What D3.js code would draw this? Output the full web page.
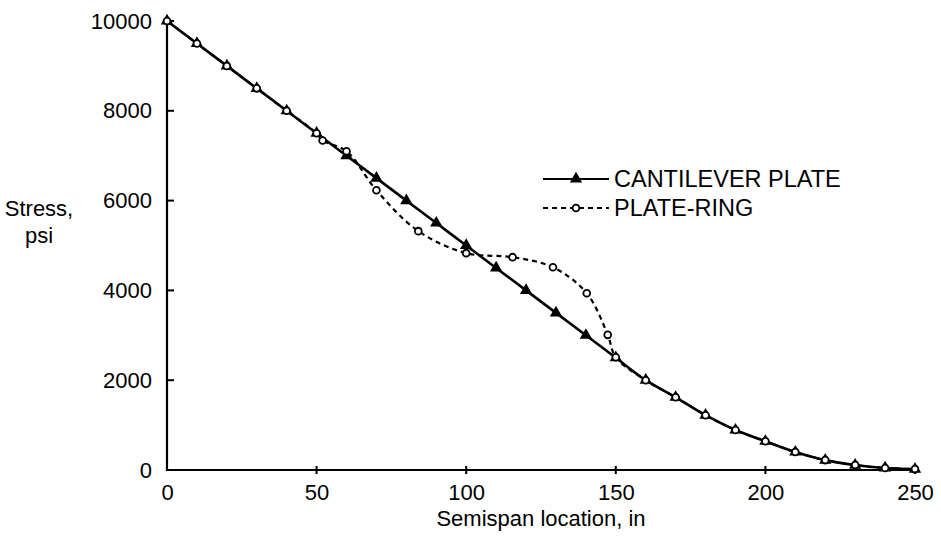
<!DOCTYPE html>
<html><head><meta charset="utf-8">
<script src="https://cdn.jsdelivr.net/npm/d3@7"></script>
<style>body{margin:0;background:#fff}svg{display:block}text{font-family:"Liberation Sans",Arial,sans-serif;fill:#000}</style>
</head><body><svg id="c" width="941" height="546"></svg>
<script>
const cantX = [0,10,20,30,40,50,60,70,80,90,100,110,120,130,140,150,160,170,180,190,200,210,220,230,240,250];
const cantY = [10000,9500,9000,8500,8000,7500,7000,6500,6000,5500,5000,4500,4000,3500,3000,2500,2000,1620,1220,890,640,400,220,110,45,20];
const ringX = [0,10,20,30,40,50,52,60,70,84,100,115.5,129,140.3,147.3,150,160,170,180,190,200,210,220,230,240,250];
const ringY = [10000,9500,9000,8500,8000,7500,7340,7100,6230,5320,4830,4740,4515,3935,3010,2510,2000,1620,1220,890,640,400,220,110,45,20];
const xTicks = [0,50,100,150,200,250];
const yTicks = [0,2000,4000,6000,8000,10000];
const seriesNames = ["CANTILEVER PLATE","PLATE-RING"];
const FS = "22px";
const LFS = "23.5px";

const svg = d3.select("#c");
const x = d3.scaleLinear().domain([0,250]).range([167,915]);
const y = d3.scaleLinear().domain([0,10000]).range([470,21]);

// axes
const xa = svg.append("g").attr("transform","translate(0,470)")
  .call(d3.axisBottom(x).tickValues(xTicks).tickFormat(d3.format("d")).tickSize(0).tickPadding(14));
xa.select(".domain").remove();
xa.selectAll("text").style("font-size",FS).attr("font-family",null);
svg.append("g").selectAll("line").data(xTicks.slice(1)).join("line")
  .attr("x1",d=>x(d)).attr("x2",d=>x(d)).attr("y1",466).attr("y2",474)
  .attr("stroke","#000").attr("stroke-width",2);

const ya = svg.append("g").attr("transform","translate(167,0)")
  .call(d3.axisLeft(y).tickValues(yTicks).tickFormat(d3.format("d")).tickSize(0).tickPadding(15));
ya.select(".domain").remove();
ya.selectAll("text").style("font-size",FS).attr("font-family",null);
svg.append("g").selectAll("line").data(yTicks.slice(1)).join("line")
  .attr("x1",167).attr("x2",174).attr("y1",d=>y(d)).attr("y2",d=>y(d))
  .attr("stroke","#000").attr("stroke-width",2);

svg.append("line").attr("x1",167).attr("x2",167).attr("y1",y(10000)).attr("y2",471).attr("stroke","#000").attr("stroke-width",2.2);
svg.append("line").attr("x1",166).attr("x2",x(250)).attr("y1",470).attr("y2",470).attr("stroke","#000").attr("stroke-width",2.2);

// labels
svg.append("text").attr("x",39).attr("y",216).attr("text-anchor","middle").style("font-size",FS).text("Stress,");
svg.append("text").attr("x",39).attr("y",243).attr("text-anchor","middle").style("font-size",FS).text("psi");
svg.append("text").attr("x",541).attr("y",526).attr("text-anchor","middle").style("font-size",FS).text("Semispan location, in");

const cant = cantX.map((d,i)=>[d,cantY[i]]);
const ring = ringX.map((d,i)=>[d,ringY[i]]);
const line = d3.line().x(d=>x(d[0])).y(d=>y(d[1])).curve(d3.curveCatmullRom.alpha(0.5));

svg.append("path").attr("d",line(cant)).attr("fill","none").attr("stroke","#000").attr("stroke-width",2.6);
const tri = d3.symbol().type(d3.symbolTriangle).size(66);
svg.append("g").selectAll("path").data(cant).join("path")
  .attr("d",tri).attr("transform",d=>`translate(${x(d[0])},${y(d[1])})`).attr("fill","#000");

svg.append("path").attr("d",line(ring)).attr("fill","none").attr("stroke","#000").attr("stroke-width",2.2).attr("stroke-dasharray","5,4");
svg.append("g").selectAll("circle").data(ring).join("circle")
  .attr("cx",d=>x(d[0])).attr("cy",d=>y(d[1])).attr("r",3.4)
  .attr("fill","#fff").attr("stroke","#000").attr("stroke-width",1.8);

// legend
const lg = svg.append("g");
lg.append("line").attr("x1",543).attr("x2",609).attr("y1",179).attr("y2",179).attr("stroke","#000").attr("stroke-width",2.2);
lg.append("path").attr("d",tri).attr("transform","translate(576,179)").attr("fill","#000");
lg.append("text").attr("x",614).attr("y",187).style("font-size",LFS).text(seriesNames[0]);
lg.append("line").attr("x1",543).attr("x2",609).attr("y1",208).attr("y2",208).attr("stroke","#000").attr("stroke-width",2).attr("stroke-dasharray","5,4");
lg.append("circle").attr("cx",576).attr("cy",208).attr("r",3.4).attr("fill","#fff").attr("stroke","#000").attr("stroke-width",1.8);
lg.append("text").attr("x",614).attr("y",216).style("font-size",LFS).text(seriesNames[1]);
</script></body></html>
